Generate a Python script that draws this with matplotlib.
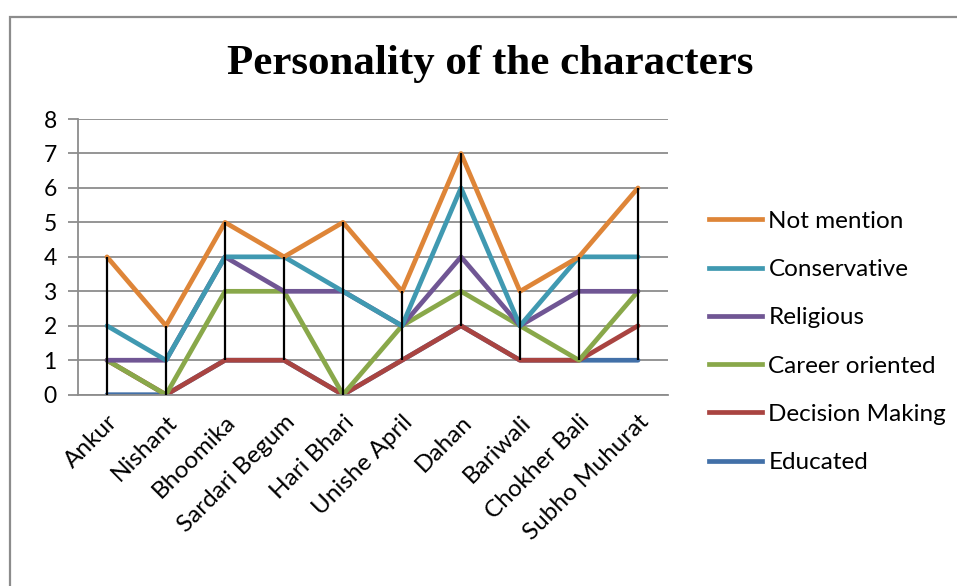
import numpy as np
import matplotlib
matplotlib.use("Agg")
import matplotlib.pyplot as plt
from matplotlib.lines import Line2D
from matplotlib.patches import Rectangle

# Datos (valores por personaje, se apilan como en el grafico de lineas apiladas)
personajes = ['Ankur', 'Nishant', 'Bhoomika', 'Sardari Begum', 'Hari Bhari',
              'Unishe April', 'Dahan', 'Bariwali', 'Chokher Bali', 'Subho Muhurat']
educated = [0, 0, 1, 1, 0, 1, 2, 1, 1, 1]
decision_making = [1, 0, 0, 0, 0, 0, 0, 0, 0, 1]
career_oriented = [0, 0, 2, 2, 0, 1, 1, 1, 0, 1]
religious = [0, 1, 1, 0, 3, 0, 1, 0, 2, 0]
conservative = [1, 0, 0, 1, 0, 0, 2, 0, 1, 1]
not_mention = [2, 1, 1, 0, 2, 1, 1, 1, 0, 2]

series_names = ['Educated', 'Decision Making', 'Career oriented',
                'Religious', 'Conservative', 'Not mention']
series_vals = [educated, decision_making, career_oriented,
               religious, conservative, not_mention]
colores = ['#4270A8', '#A94441', '#89A84A', '#705694', '#4099B1', '#DE8538']

plt.rcParams['font.family'] = ['Lato', 'DejaVu Sans']

W, H = 957, 586
fig = plt.figure(figsize=(W / 100, H / 100), dpi=100)

# Marco del grafico
fig.patches.append(Rectangle((10 / W, -0.1), 1.1, 1 - 17 / H + 0.1,
                             transform=fig.transFigure, fill=False,
                             edgecolor='#8c8c8c', linewidth=1.6))

ax = fig.add_axes([77.5 / W, 191.3 / H, 590 / W, 275.7 / H])

x = np.arange(len(personajes))
acumulado = np.cumsum(np.array(series_vals), axis=0)

# Lineas alto-bajo
ax.vlines(x, acumulado.min(axis=0), acumulado.max(axis=0), color='black',
          linewidth=1.6, zorder=3)

for nombre, fila, color in zip(series_names, acumulado, colores):
    ax.plot(x, fila, color=color, linewidth=3.4, solid_capstyle='round',
            label=nombre, zorder=2)

ax.set_xlim(-0.5, len(personajes) - 0.5)
ax.set_ylim(0, 8)
ax.set_yticks(range(0, 9))
ax.yaxis.grid(True, color='#8c8c8c', linewidth=1.3)
ax.set_axisbelow(True)
for lado in ['top', 'right']:
    ax.spines[lado].set_visible(False)
for lado in ['left', 'bottom']:
    ax.spines[lado].set_color('#8c8c8c')
    ax.spines[lado].set_linewidth(1.3)
ax.tick_params(axis='y', length=7, width=1.3, color='#8c8c8c', labelsize=16.5, pad=8)
ax.tick_params(axis='x', length=0, labelsize=17.5, pad=12)
ax.set_xticks(x)
ax.set_xticklabels(personajes, rotation=45, ha='right', va='top',
                   rotation_mode='anchor')

fig.text(490 / W, 1 - 64 / H, 'Personality of the characters',
         family='Liberation Serif', fontweight='bold', fontsize=31,
         ha='center', va='center')

handles = [Line2D([], [], color=c, linewidth=3.4) for c in colores][::-1]
fig.legend(handles, series_names[::-1], loc='upper left',
           bbox_to_anchor=(687 / W, 1 - 189 / H), frameon=False,
           fontsize=17.5, handlelength=2.2, handletextpad=0.25,
           labelspacing=1.12)

fig.savefig('out.png', dpi=100)
